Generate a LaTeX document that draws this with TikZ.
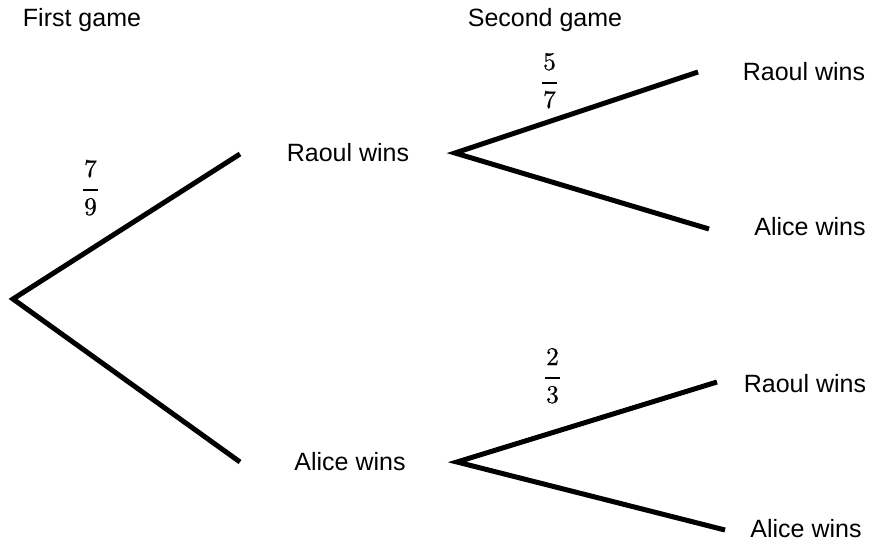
\documentclass[tikz,border=0pt]{standalone}
\usepackage{fontspec}
\setsansfont{Liberation Sans}
\newfontfamily\numfont[FakeBold=0.6]{lmroman10-regular.otf}
% stacked fraction: numerator, bar, denominator
\newcommand\probfrac[2]{{\setlength\arrayrulewidth{2pt}%
  \begin{tabular}{@{\hspace{1pt}}c@{\hspace{1pt}}}#1\\[3pt]\hline\rule{0pt}{24pt}#2\end{tabular}}}
\begin{document}
\begin{tikzpicture}[x=1pt,y=-1pt,
  branch/.style={line width=5pt,line join=miter},
  lbl/.style={font=\sffamily\fontsize{25}{30}\selectfont,anchor=base,inner sep=0pt},
  prob/.style={font=\numfont\fontsize{25.5}{30}\selectfont,inner sep=0pt}]
  \useasboundingbox (0,0) rectangle (871,541);

  % column headings
  \node[lbl] (h1) at (82,26) {First game};
  \node[lbl] (h2) at (545,26) {Second game};

  % branch points and free ends
  \coordinate (root) at (13,299);
  \coordinate (e1) at (240,154);
  \coordinate (e2) at (240,462);
  \coordinate (s1) at (455,153);
  \coordinate (s2) at (457,462);
  \coordinate (f1) at (698,72);
  \coordinate (f2) at (709,229);
  \coordinate (f3) at (717,382);
  \coordinate (f4) at (725,530);

  % outcome labels
  \node[lbl] (rw1) at (348,161) {Raoul wins};
  \node[lbl] (aw1) at (350,470) {Alice wins};
  \node[lbl] (rw2) at (804,80) {Raoul wins};
  \node[lbl] (aw2) at (810,235) {Alice wins};
  \node[lbl] (rw3) at (805,392) {Raoul wins};
  \node[lbl] (aw3) at (806,537) {Alice wins};

  % tree branches
  \draw[branch] (e1) -- (root) -- (e2);
  \draw[branch] (f1) -- (s1) -- (f2);
  \draw[branch] (f3) -- (s2) -- (f4);

  % branch probabilities
  \node[prob] (p1) at (90.5,190) {\probfrac{7}{9}};
  \node[prob] (p2) at (549.5,83) {\probfrac{5}{7}};
  \node[prob] (p3) at (552.5,378) {\probfrac{2}{3}};
\end{tikzpicture}
\end{document}
